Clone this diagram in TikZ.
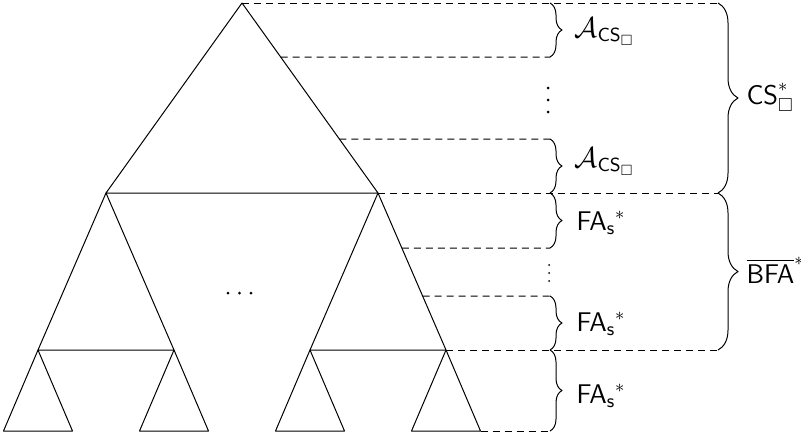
\documentclass[tikz,border=0pt]{standalone}
\usepackage{amsmath,amssymb}
\usepackage{fontspec}
\usetikzlibrary{decorations.pathreplacing,calc}
\newcommand{\sff}[1]{\text{\sffamily #1}}
\begin{document}
\begin{tikzpicture}[x=0.5pt,y=-0.5pt,line width=0.5pt,line join=round,
  guide/.style={dash pattern=on 3.5pt off 2.5pt},
  smallbrace/.style={decorate,decoration={brace,amplitude=6pt}},
  bigbrace/.style={decorate,decoration={brace,amplitude=10pt}},
  lbl/.style={anchor=base west,inner sep=0pt,font=\fontsize{13.5}{16}\selectfont},
  dotbig/.style={fill,circle,inner sep=0pt,minimum size=1.5pt},
  dotsmall/.style={fill,circle,inner sep=0pt,minimum size=1pt}]
\useasboundingbox (0,0) rectangle (801,440);
% tree points
\coordinate (T) at (242,3);
\coordinate (L1) at (106,193);
\coordinate (R1) at (378,193);
\coordinate (LL) at (38,350);
\coordinate (LR) at (174,350);
\coordinate (RL) at (310,350);
\coordinate (RR) at (446,350);
\coordinate (LLa) at (3.5,431);   \coordinate (LLb) at (72.5,431);
\coordinate (LRa) at (139.5,431); \coordinate (LRb) at (208.5,431);
\coordinate (RLa) at (275.5,431); \coordinate (RLb) at (344.5,431);
\coordinate (RRa) at (411.5,431); \coordinate (RRb) at (480.5,431);
% tree
\draw (T) -- (L1) -- (R1) -- cycle;
\draw (L1) -- (LL) -- (LR) -- cycle;
\draw (R1) -- (RL) -- (RR) -- cycle;
\draw (LL) -- (LLa) -- (LLb) -- cycle;
\draw (LR) -- (LRa) -- (LRb) -- cycle;
\draw (RL) -- (RLa) -- (RLb) -- cycle;
\draw (RR) -- (RRa) -- (RRb) -- cycle;
% points on the right edges
\coordinate (g1) at ($(T)!0.2842!(R1)$);
\coordinate (g2) at ($(T)!0.7158!(R1)$);
\coordinate (g3) at ($(R1)!0.3503!(RR)$);
\coordinate (g4) at ($(R1)!0.656!(RR)$);
% brace ends
\coordinate (s0) at (550,3);
\coordinate (s1) at (550,57);
\coordinate (s2) at (550,139);
\coordinate (s3) at (550,193);
\coordinate (s4) at (550,248);
\coordinate (s5) at (550,296);
\coordinate (s6) at (550,350);
\coordinate (s7) at (550,431);
\coordinate (Btop) at (718,3);
\coordinate (Bmid) at (718,193);
\coordinate (Bbot) at (718,350);
% dashed guides
\draw[guide] (T) -- (Btop);
\draw[guide] (g1) -- (s1);
\draw[guide] (g2) -- (s2);
\draw[guide] (R1) -- (Bmid);
\draw[guide] (g3) -- (s4);
\draw[guide] (g4) -- (s5);
\draw[guide] (RR) -- (Bbot);
\draw[guide] (RRb) -- (s7);
% braces
\draw[smallbrace] (s0) -- (s1);
\draw[smallbrace] (s2) -- (s3);
\draw[smallbrace] (s3) -- (s4);
\draw[smallbrace] (s5) -- (s6);
\draw[smallbrace] (s6) -- (s7);
\draw[bigbrace] (Btop) -- (Bmid);
\draw[bigbrace] (Bmid) -- (Bbot);
% labels
\node[lbl] (a1) at (574,37) {$\mathcal{A}_{\sff{CS}_\square}$};
\node[lbl] (a2) at (574,167) {$\mathcal{A}_{\sff{CS}_\square}$};
\node[lbl] (f1) at (576,230) {$\sff{FA}_{\sff{s}}{}^{*}$};
\node[lbl] (f2) at (576,331) {$\sff{FA}_{\sff{s}}{}^{*}$};
\node[lbl] (f3) at (576,403) {$\sff{FA}_{\sff{s}}{}^{*}$};
\node[lbl] (cs) at (746,104) {$\sff{CS}^{*}_{\square}$};
\node[lbl] (bfa) at (746,283) {$\overline{\sff{BFA}}^{*}$};
% dots
\node[dotbig] (v1) at (548,88) {};
\node[dotbig] (v2) at (548,100) {};
\node[dotbig] (v3) at (548,112) {};
\node[dotsmall] (w1) at (549,265) {};
\node[dotsmall] (w2) at (549,273) {};
\node[dotsmall] (w3) at (549,281) {};
\node[dotbig] (h1) at (228,293) {};
\node[dotbig] (h2) at (239.5,293) {};
\node[dotbig] (h3) at (251,293) {};
\end{tikzpicture}
\end{document}
